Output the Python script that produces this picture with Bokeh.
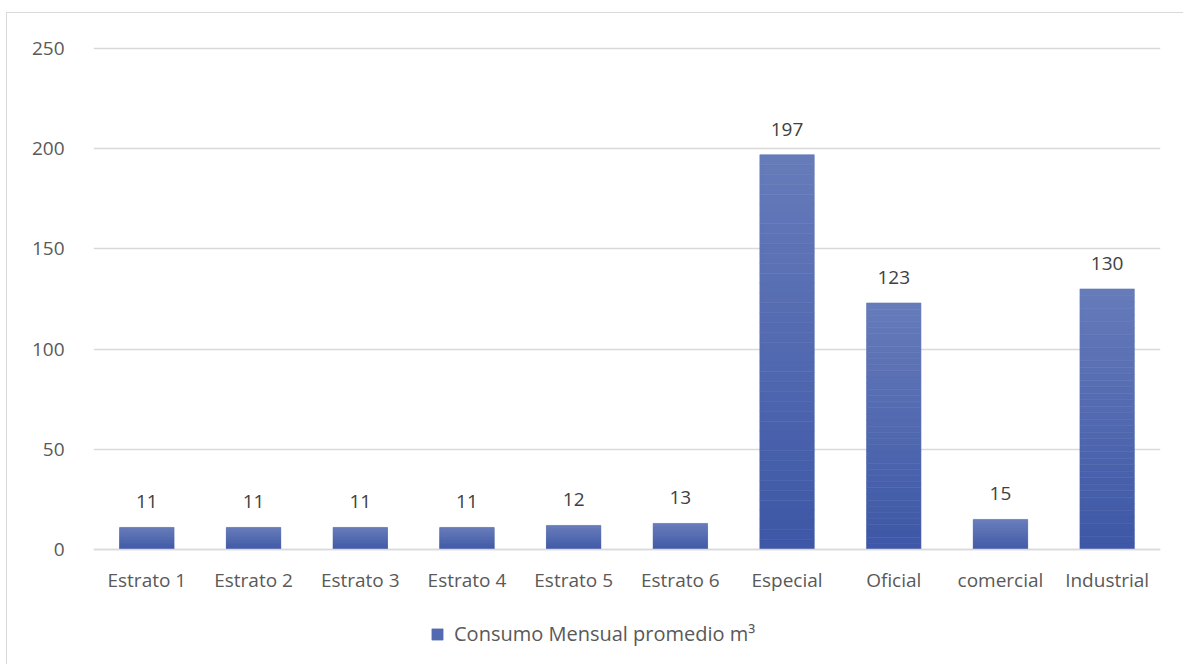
from bokeh.plotting import figure
from bokeh.models import ColumnDataSource, Legend, LegendItem, FactorRange, Range1d, LabelSet, FixedTicker
from bokeh.core.properties import value
from bokeh.embed import file_html
from bokeh.resources import INLINE

categories = ["Estrato 1", "Estrato 2", "Estrato 3", "Estrato 4", "Estrato 5",
              "Estrato 6", "Especial", "Oficial", "comercial", "Industrial"]
values = [11, 11, 11, 11, 12, 13, 197, 123, 15, 130]
y_ticks = [0, 50, 100, 150, 200, 250]
series_name = "Consumo Mensual promedio m³"

FONT = "Open Sans"

# gradient (light at top, dark at bottom) built as thin slices of each bar
top_rgb = (0x67, 0x7b, 0xba)
bot_rgb = (0x3d, 0x57, 0xa6)
N = 40
g = dict(cat=[], bottom=[], top=[], color=[])
for c, v in zip(categories, values):
    for i in range(N):
        t = (i + 0.5) / N
        rgb = tuple(int(round(b + (a - b) * t)) for a, b in zip(top_rgb, bot_rgb))
        g["cat"].append(c)
        g["bottom"].append(v * i / N)
        g["top"].append(v * (i + 1) / N)
        g["color"].append("#%02x%02x%02x" % rgb)
gsrc = ColumnDataSource(g)
src = ColumnDataSource(dict(cat=categories, val=values, lab=[str(v) for v in values]))

# frame extends below the zero line to hold the axis labels and the legend
p = figure(x_range=FactorRange(*categories, range_padding=0),
           y_range=Range1d(-55.4, 251),
           frame_width=1067, frame_height=614,
           min_border_left=86, min_border_top=33, min_border_right=23, min_border_bottom=4,
           output_backend="svg", toolbar_location=None)
p.styles = {"margin-left": "6px", "margin-top": "12px",
            "border-left": "1px solid #d9d9d9", "border-top": "1px solid #d9d9d9"}

r = p.vbar(x="cat", bottom="bottom", top="top", width=0.51, source=gsrc,
           fill_color="color", line_color="color", line_width=0.6)

labels = LabelSet(x="cat", y="val", text="lab", source=src,
                  text_align="center", text_baseline="bottom", y_offset=19,
                  text_font=value(FONT), text_font_size="19px", text_color="#404040")
p.add_layout(labels)

p.outline_line_color = None
p.xgrid.grid_line_color = None
p.ygrid.grid_line_color = "#d9d9d9"
p.ygrid.grid_line_width = 1.3
p.yaxis.ticker = FixedTicker(ticks=y_ticks)

p.yaxis.axis_line_color = None
p.yaxis.major_tick_line_color = None
p.yaxis.minor_tick_line_color = None
p.yaxis.major_label_standoff = 23
p.yaxis.major_label_text_font = FONT
p.yaxis.major_label_text_font_size = "19px"
p.yaxis.major_label_text_color = "#595959"

p.xaxis.fixed_location = 0
p.xaxis.axis_line_color = "#d9d9d9"
p.xaxis.axis_line_width = 1.3
p.xaxis.major_tick_line_color = None
p.xaxis.minor_tick_line_color = None
p.xaxis.major_label_standoff = 12
p.xaxis.major_label_text_font = FONT
p.xaxis.major_label_text_font_size = "19px"
p.xaxis.major_label_text_color = "#595959"

legend = Legend(items=[LegendItem(label=series_name, renderers=[r], index=N // 2)],
                location=(337, 13), orientation="horizontal",
                glyph_width=14, glyph_height=14, label_standoff=10,
                label_text_font=FONT, label_text_font_size="20px",
                label_text_color="#595959", border_line_color=None,
                background_fill_alpha=0, margin=0, padding=4)
p.add_layout(legend)

open("out.html", "w").write(file_html(p, INLINE))
